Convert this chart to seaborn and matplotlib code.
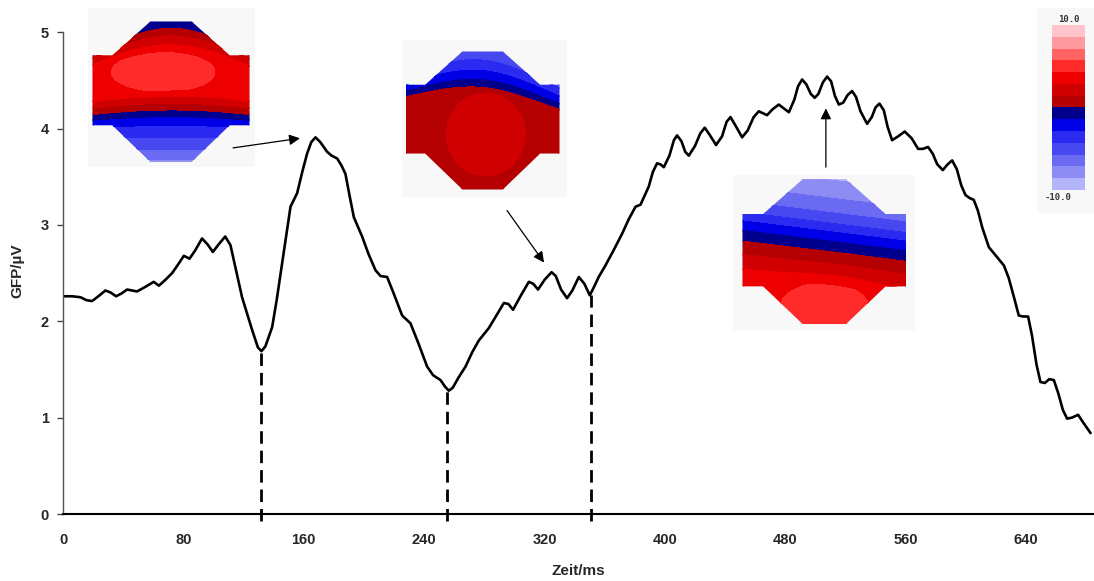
import numpy as np
import pandas as pd
import matplotlib
matplotlib.use("Agg")
import matplotlib.pyplot as plt
import seaborn as sns
from matplotlib.colors import ListedColormap, BoundaryNorm
from matplotlib.patches import Polygon

# ---------------- data ----------------
time_ms = [0, 6, 11.6, 15.5, 19.3, 23.5, 28.2, 31.5, 35.3, 39, 42.6, 46, 49.2, 55, 60.3, 63.7,
           68, 72.5, 76.5, 80.3, 84.1, 88, 92.4, 96, 99.6, 103.5, 107.8, 111.3, 115, 119,
           125.7, 129.5, 131.9, 134.5, 139, 142, 145.6, 151.2, 155.6, 159, 162.2, 165, 167.8,
           171, 175.5, 178.5, 182.2, 185, 187.7, 190.5, 193.3, 198.8, 203, 207.7, 211, 215.4,
           219, 223.2, 225.4, 230.9, 236, 242, 246, 250.9, 254, 256.4, 259, 263, 267.5, 272,
           276.3, 283, 288, 293, 296, 299.1, 304, 309.6, 312.5, 315.7, 320, 324.7, 327.5, 331,
           335, 338.5, 342.8, 346.5, 350.1, 353, 356, 360.5, 366, 371.6, 376, 380.5, 383.8,
           389.3, 392, 394.8, 397, 399.3, 403, 406, 408.1, 411, 413.5, 415.9, 420, 423.5,
           426.5, 430, 434, 438, 441, 443.6, 447, 451.3, 455, 459, 462.4, 467.9, 471.5, 475.7,
           479, 482.4, 486, 488.5, 491.2, 494, 497, 499.6, 502, 505, 507.8, 510.5, 513, 515.6,
           518.5, 521.5, 524.4, 527, 530, 534.4, 537.5, 540, 542.6, 545.5, 548, 551, 555,
           559.4, 564, 568.3, 571.5, 574.9, 578, 581, 584.7, 588, 590.9, 594, 597, 599.8,
           602.5, 605.3, 608, 611, 615.3, 620, 625.3, 628.5, 632, 635.2, 638, 641.4, 644, 647,
           649.6, 652.5, 655.5, 658.5, 661.5, 664.5, 667.3, 670.5, 674.6, 678, 682.9]
gfp_uv = [2.26, 2.26, 2.25, 2.22, 2.21, 2.26, 2.32, 2.30, 2.26, 2.29, 2.33, 2.32, 2.31, 2.36,
          2.41, 2.37, 2.43, 2.50, 2.59, 2.68, 2.65, 2.74, 2.86, 2.80, 2.72, 2.80, 2.88, 2.79,
          2.53, 2.25, 1.91, 1.73, 1.69, 1.74, 1.94, 2.22, 2.60, 3.19, 3.33, 3.55, 3.74, 3.86,
          3.91, 3.86, 3.76, 3.72, 3.69, 3.62, 3.53, 3.30, 3.08, 2.88, 2.70, 2.53, 2.47, 2.46,
          2.32, 2.15, 2.06, 1.98, 1.78, 1.53, 1.44, 1.39, 1.32, 1.28, 1.31, 1.42, 1.53, 1.68,
          1.80, 1.93, 2.06, 2.19, 2.18, 2.12, 2.26, 2.41, 2.39, 2.33, 2.43, 2.51, 2.47, 2.33,
          2.24, 2.32, 2.46, 2.39, 2.27, 2.36, 2.46, 2.58, 2.74, 2.91, 3.06, 3.19, 3.21,
          3.40, 3.55, 3.64, 3.63, 3.60, 3.72, 3.88, 3.93, 3.87, 3.76, 3.72, 3.82, 3.95,
          4.01, 3.93, 3.83, 3.92, 4.07, 4.12, 4.03, 3.91, 3.98, 4.12, 4.18, 4.14, 4.20, 4.25,
          4.21, 4.17, 4.30, 4.44, 4.51, 4.46, 4.36, 4.32, 4.36, 4.48, 4.54, 4.49, 4.34, 4.25,
          4.27, 4.35, 4.39, 4.33, 4.18, 4.05, 4.12, 4.22, 4.26, 4.19, 4.02, 3.88, 3.92,
          3.97, 3.90, 3.79, 3.79, 3.81, 3.74, 3.63, 3.57, 3.63, 3.67, 3.58, 3.41, 3.31,
          3.28, 3.26, 3.15, 2.97, 2.77, 2.68, 2.58, 2.45, 2.25, 2.06, 2.05, 2.05, 1.85, 1.55,
          1.37, 1.36, 1.40, 1.39, 1.25, 1.08, 0.99, 1.00, 1.03, 0.95, 0.84]
trough_ms = [131.3, 255.5, 350.6]
trough_gfp = [1.69, 1.28, 2.27]
x_ticks = [0, 80, 160, 240, 320, 400, 480, 560, 640]
y_ticks = [0, 1, 2, 3, 4, 5]
cbar_labels = ["10.0", "-10.0"]
map_colors = ['#b4b4fa', '#8c8cf4', '#6a6af2', '#4848f0', '#2a2af0', '#0000e6', '#00008c',
              '#b40000', '#d00000', '#ee0000', '#ff2a2a', '#ff6464', '#ff9aa0', '#ffc4cc']

# ---------------- style ----------------
sns.set_theme(style="ticks")
plt.rcParams['font.family'] = ['Liberation Sans', 'DejaVu Sans']
plt.rcParams['font.weight'] = 'bold'

W, H = 1094, 581
fig = plt.figure(figsize=(W / 100, H / 100), dpi=100)
fig.patch.set_facecolor('white')

x0px, x1px = 63, 1094
y0px, y1px = 32.3, 514
px_per_ms = 1.5047
ax = fig.add_axes([x0px / W, 1 - y1px / H, (x1px - x0px) / W, (y1px - y0px) / H], zorder=5)
ax.patch.set_alpha(0)

df = pd.DataFrame({"Zeit": time_ms, "GFP": gfp_uv})
sns.lineplot(data=df, x="Zeit", y="GFP", ax=ax, color="black", lw=1.9, solid_joinstyle='round',
             solid_capstyle='round')
ax.vlines(trough_ms, -0.07, trough_gfp, colors='black', linestyles=(0, (4.5, 2.5)), lw=2.0,
          clip_on=False)

ax.set_xlim(0, (x1px - x0px) / px_per_ms)
ax.set_ylim(0, 5)
ax.set_xticks(x_ticks)
ax.set_yticks(y_ticks)
ax.tick_params(axis='x', length=0, pad=14, labelsize=10.5)
ax.tick_params(axis='y', length=4, width=1, pad=6, labelsize=10.5, color='#444444')
for lab in ax.get_xticklabels() + ax.get_yticklabels():
    lab.set_fontweight('bold')
sns.despine(ax=ax)
ax.spines['left'].set_color('#555555')
ax.spines['left'].set_linewidth(1.0)
ax.spines['bottom'].set_color('black')
ax.spines['bottom'].set_linewidth(1.5)
ax.set_xlabel("Zeit/ms", fontsize=11, fontweight='bold')
ax.set_ylabel("GFP/µV", fontsize=11, fontweight='bold')
ax.xaxis.set_label_coords(0.5, -0.103)
ax.yaxis.set_label_coords(-0.037, 0.505)

# arrows
arrow_kw = dict(arrowstyle='-|>', lw=0.9, color='black', mutation_scale=16, shrinkA=0, shrinkB=0)
ax.annotate("", xy=(157.5, 3.90), xytext=(113, 3.80), arrowprops=arrow_kw, annotation_clip=False)
ax.annotate("", xy=(319.7, 2.61), xytext=(295.1, 3.15), arrowprops=arrow_kw, annotation_clip=False)
ax.annotate("", xy=(507, 4.21), xytext=(507, 3.60), arrowprops=arrow_kw, annotation_clip=False)

# ---------------- topographic insets ----------------
cmap = ListedColormap(map_colors)
levels = np.linspace(-10, 10, len(map_colors) + 1)
norm = BoundaryNorm(levels, cmap.N)


def add_map(box, mp, yp, vp, tilt=0.0, dome=0.0, bump=None):
    bx0, by0, bx1, by1 = box
    a = fig.add_axes([bx0 / W, 1 - by1 / H, (bx1 - bx0) / W, (by1 - by0) / H], zorder=1)
    a.set_facecolor('#f8f8f8')
    a.set_xlim(bx0, bx1)
    a.set_ylim(by1, by0)
    a.set_xticks([])
    a.set_yticks([])
    for s in a.spines.values():
        s.set_visible(False)
    mx0, my0, mx1, my1 = mp
    xs = np.linspace(mx0, mx1, 220)
    ys = np.linspace(my0, my1, 220)
    X, Y = np.meshgrid(xs, ys)
    u = (X - mx0) / (mx1 - mx0)
    v = (Y - my0) / (my1 - my0)
    veff = v - tilt * (u - 0.5) - dome * (2 * u - 1) ** 2 * (1 - v) ** 2
    F = np.interp(veff, yp, vp)
    if bump is not None:
        amp, cu, cv, su, sv = bump
        F = F + amp * np.exp(-((u - cu) / su) ** 2 - ((v - cv) / sv) ** 2)
    F = np.clip(F, -9.99, 9.99)
    cs = a.contourf(X, Y, F, levels=levels, cmap=cmap, norm=norm)
    cs.set_edgecolor('face')
    cs.set_linewidth(0.6)
    shape = [(0.367, 0), (0.633, 0), (0.875, 0.24), (1, 0.24), (1, 0.74), (0.875, 0.74),
             (0.633, 1), (0.367, 1), (0.125, 0.74), (0, 0.74), (0, 0.24), (0.125, 0.24)]
    pts = [(mx0 + px * (mx1 - mx0), my0 + py * (my1 - my0)) for px, py in shape]
    poly = Polygon(pts, closed=True, transform=a.transData, facecolor='none', edgecolor='none')
    a.add_patch(poly)
    cs.set_clip_path(poly)
    return a


add_map((88, 8, 255, 167), (92.7, 21.7, 249.3, 161.7),
        [0, 0.03, 0.07, 0.14, 0.22, 0.48, 0.55, 0.6, 0.65, 0.7, 0.78, 0.88, 1.0],
        [-0.7, -0.7, 0.7, 2.0, 3.5, 3.5, 2.0, 0.7, -0.7, -2.2, -3.6, -5.2, -7.5],
        dome=0.3, bump=(1.8, 0.45, 0.36, 0.36, 0.15))
add_map((401.7, 40, 566.7, 196.7), (406, 51.7, 559.3, 189.3),
        [0, 0.12, 0.2, 0.26, 0.3, 1.0],
        [-5.5, -3.5, -2.0, -0.7, 0.7, 0.7], tilt=0.12, dome=0.25,
        bump=(1.5, 0.52, 0.6, 0.3, 0.35))
add_map((733.3, 175, 915, 330), (742.7, 179.3, 906, 324),
        [0, 0.1, 0.2, 0.28, 0.34, 0.4, 0.46, 0.54, 0.64, 0.74, 1.0],
        [-8.6, -7.5, -6.2, -4.8, -3.3, -2.0, -0.7, 0.7, 2.1, 3.5, 3.5], tilt=0.14,
        bump=(1.8, 0.5, 0.9, 0.3, 0.2))

# ---------------- colour bar ----------------
cb = fig.add_axes([1036.7 / W, 1 - 213 / H, (1094 - 1036.7) / W, (213 - 8.3) / H], zorder=1)
cb.set_facecolor('#f8f8f8')
cb.set_xticks([])
cb.set_yticks([])
for s in cb.spines.values():
    s.set_visible(False)
bands = np.arange(len(map_colors))[::-1].reshape(-1, 1)
cb.imshow(bands, cmap=cmap, aspect='auto', extent=(1052.3, 1085, 190, 25), interpolation='nearest')
cb.set_xlim(1036.7, 1094)
cb.set_ylim(213, 8.3)
cb.text(1068.5, 19, cbar_labels[0], ha='center', va='center', fontsize=6.5, color='#333333',
        family='DejaVu Sans Mono', fontweight='bold')
cb.text(1045, 197, cbar_labels[1], ha='left', va='center', fontsize=6.5, color='#333333',
        family='DejaVu Sans Mono', fontweight='bold', clip_on=False)

fig.savefig("out.png", dpi=100)
